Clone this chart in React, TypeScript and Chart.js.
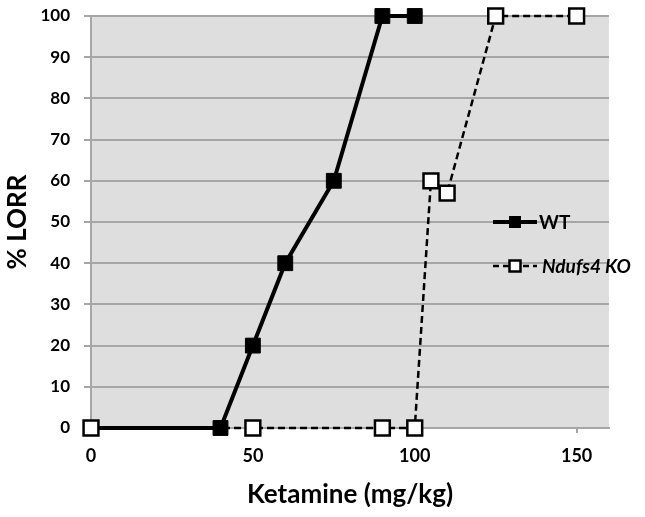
import React, { useEffect, useRef } from 'react';
import { Chart, registerables } from 'chart.js';

Chart.register(...registerables);

const wtDose = [0, 40, 50, 60, 75, 90, 100];
const wtLorr = [0, 0, 20, 40, 60, 100, 100];
const koDose = [0, 50, 90, 100, 105, 110, 125, 150];
const koLorr = [0, 0, 0, 0, 60, 57, 100, 100];
const xTickValues = [0, 50, 100, 150];
const seriesNames = ['WT', 'Ndufs4 KO'];
const xTitle = 'Ketamine (mg/kg)';
const yTitle = '% LORR';

const FONT = 'Lato, "Open Sans", sans-serif';

export default function App() {
  const ref = useRef<HTMLCanvasElement | null>(null);

  useEffect(() => {
    if (!ref.current) return;

    const bgPlugin = {
      id: 'plotBg',
      beforeDraw(chart: any) {
        const { ctx, chartArea } = chart;
        ctx.save();
        ctx.fillStyle = '#dedede';
        ctx.fillRect(chartArea.left, chartArea.top, chartArea.right - chartArea.left, chartArea.bottom - chartArea.top);
        ctx.restore();
      },
    };

    const legendPlugin = {
      id: 'customLegend',
      afterDraw(chart: any) {
        const { ctx } = chart;
        const x0 = 493;
        const x1 = 537;
        const mx = 515;
        const rows = [
          { y: 222, name: seriesNames[0], solid: true, italic: false },
          { y: 266, name: seriesNames[1], solid: false, italic: true },
        ];
        ctx.save();
        rows.forEach((r) => {
          ctx.strokeStyle = '#000';
          ctx.lineWidth = r.solid ? 4 : 2.5;
          ctx.setLineDash(r.solid ? [] : [6, 4]);
          ctx.beginPath();
          ctx.moveTo(x0, r.y);
          ctx.lineTo(x1, r.y);
          ctx.stroke();
          ctx.setLineDash([]);
          if (r.solid) {
            ctx.fillStyle = '#000';
            ctx.fillRect(mx - 6, r.y - 6, 12, 12);
          } else {
            ctx.fillStyle = '#fff';
            ctx.fillRect(mx - 5.5, r.y - 5.5, 11, 11);
            ctx.lineWidth = 2.5;
            ctx.strokeRect(mx - 5.5, r.y - 5.5, 11, 11);
          }
          ctx.fillStyle = '#000';
          ctx.font = `${r.italic ? 'italic ' : ''}bold 19px ${FONT}`;
          ctx.textBaseline = 'middle';
          ctx.textAlign = 'left';
          ctx.fillText(r.name, r.solid ? 539 : 542, r.y + 1);
        });
        ctx.restore();
      },
    };

    const chart = new Chart(ref.current, {
      type: 'line',
      data: {
        datasets: [
          {
            label: seriesNames[1],
            data: koDose.map((x, i) => ({ x, y: koLorr[i] })),
            borderColor: '#000',
            borderWidth: 2.5,
            borderDash: [7, 4],
            pointStyle: 'rect',
            pointRadius: 10.5,
            pointBackgroundColor: '#fff',
            pointBorderColor: '#000',
            pointBorderWidth: 2.5,
            tension: 0,
            clip: false as any,
            order: 0,
          },
          {
            label: seriesNames[0],
            data: wtDose.map((x, i) => ({ x, y: wtLorr[i] })),
            borderColor: '#000',
            borderWidth: 4,
            pointStyle: 'rect',
            pointRadius: 10.5,
            pointBackgroundColor: '#000',
            pointBorderColor: '#000',
            pointBorderWidth: 1,
            tension: 0,
            clip: false as any,
            order: 1,
          },
        ],
      },
      options: {
        responsive: false,
        animation: false,
        layout: { autoPadding: false, padding: { top: 16, right: 36, bottom: 0, left: 0 } },
        plugins: {
          legend: { display: false },
          tooltip: { enabled: false },
        },
        scales: {
          x: {
            type: 'linear',
            min: 0,
            max: 160,
            afterBuildTicks: (scale: any) => {
              scale.ticks = xTickValues.map((v) => ({ value: v }));
            },
            afterFit: (scale: any) => {
              scale.height = 89;
              scale.paddingLeft = 0;
              scale.paddingRight = 0;
            },
            grid: {
              drawOnChartArea: false,
              drawTicks: true,
              tickLength: 5,
              color: '#a6a6a6',
              lineWidth: 2,
            },
            border: { display: true, color: '#a6a6a6', width: 2 },
            ticks: {
              color: '#000',
              padding: 12,
              maxRotation: 0,
              font: { family: FONT, size: 18, weight: 'bold' },
            },
            title: {
              display: true,
              text: xTitle,
              color: '#000',
              padding: { top: 0, bottom: 7 },
              font: { family: FONT, size: 26, weight: 'bold' },
            },
          },
          y: {
            type: 'linear',
            min: 0,
            max: 100,
            afterFit: (scale: any) => {
              scale.width = 91;
              scale.paddingTop = 0;
              scale.paddingBottom = 0;
            },
            ticks: {
              stepSize: 10,
              color: '#000',
              padding: 14,
              font: { family: FONT, size: 17, weight: 'bold' },
            },
            grid: {
              color: '#a6a6a6',
              lineWidth: 2,
              tickLength: 7,
            },
            border: { display: true, color: '#a6a6a6', width: 2 },
            title: {
              display: true,
              text: yTitle,
              color: '#000',
              padding: { top: 2, bottom: 0 },
              font: { family: FONT, size: 26, weight: 'bold' },
            },
          },
        },
      },
      plugins: [bgPlugin, legendPlugin],
    });

    return () => chart.destroy();
  }, []);

  return (
    <div style={{ position: 'absolute', left: 0, top: 0, width: 645, height: 517, background: '#fff' }}>
      <canvas ref={ref} width={645} height={517} style={{ display: 'block' }} />
    </div>
  );
}
